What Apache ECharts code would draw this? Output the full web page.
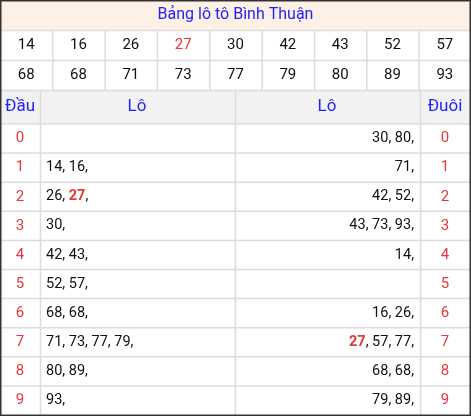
<!DOCTYPE html><html><head><meta charset="utf-8">
<script src="https://cdn.jsdelivr.net/npm/echarts@6/dist/echarts.min.js"></script>
<style>html,body{margin:0;padding:0;background:#fff}#c{width:471px;height:416px}</style></head><body><div id="c"></div>
<script>
const title = "Bảng lô tô Bình Thuận";
const numbersRow1 = ["14","16","26","27","30","42","43","52","57"];
const numbersRow2 = ["68","68","71","73","77","79","80","89","93"];
const highlight = "27";
const heads = ["0","1","2","3","4","5","6","7","8","9"];
const loByHead = [[],["14","16"],["26","27"],["30"],["42","43"],["52","57"],["68","68"],["71","73","77","79"],["80","89"],["93"]];
const loByTail = [["30","80"],["71"],["42","52"],["43","73","93"],["14"],[],["16","26"],["27","57","77"],["68","68"],["79","89"]];
const headerLabels = ["Đầu","Lô","Lô","Đuôi"];

const W=471,H=416, F='Roboto', blue='#1f1fff', red='#e8363c', line='#dcdcdc';
const g=[];
const rect=(x,y,w,h,fill)=>g.push({type:'rect',shape:{x,y,width:w,height:h},style:{fill},silent:true});
const hl=(y,x1=0,x2=W)=>g.push({type:'line',shape:{x1,y1:y,x2,y2:y},style:{stroke:line,lineWidth:1.5}});
const vl=(x,y1,y2)=>g.push({type:'line',shape:{x1:x,y1,x2:x,y2},style:{stroke:line,lineWidth:1.5}});
const txt=(x,y,t,o={})=>g.push({type:'text',x,y,style:Object.assign({text:t,fontSize:15,fontFamily:F,fill:'#111',align:'center',verticalAlign:'middle'},o)});

rect(0,0,W,30,'#fdf1e6');
txt(W/2,15,title,{fill:blue,fontSize:16});
const cw=W/9;
[numbersRow1,numbersRow2].forEach((row,r)=>{
  const y0=30+r*30;
  row.forEach((n,i)=>txt(cw*i+cw/2,y0+15,n,{fill:n===highlight?red:'#111'}));
});
for(let i=1;i<9;i++) vl(cw*i+0.5,30,90);
hl(30.5);hl(60.5);
rect(0,90,W,34,'#f2f2f2');
hl(90.5);hl(124);
txt(20,107,headerLabels[0],{fill:blue,fontSize:17});
txt(137,107,headerLabels[1],{fill:blue,fontSize:17});
txt(327,107,headerLabels[2],{fill:blue,fontSize:17});
txt(445,107,headerLabels[3],{fill:blue,fontSize:17});
const rh=29.1;
const richB={b:{fill:red,fontWeight:'bold',fontSize:14.5,fontFamily:F}};
const fmt=L=>L.map(n=>n===highlight?'{b|'+n+'}, ':n+', ').join('').trimEnd();
heads.forEach((h,i)=>{
  const y=124+rh*i+rh/2;
  txt(20,y,h,{fill:red});
  txt(445,y,h,{fill:red});
  if(loByHead[i].length) txt(46,y,fmt(loByHead[i]),{align:'left',fontSize:14.5,rich:richB});
  if(loByTail[i].length) txt(414,y,fmt(loByTail[i]),{align:'right',fontSize:14.5,rich:richB});
  if(i>0) hl(124+rh*i);
});
[40,235,420].forEach(x=>vl(x+0.5,90,H));
g.push({type:'rect',shape:{x:0.75,y:0.75,width:W-1.5,height:H-1.5},style:{fill:'none',stroke:'#333',lineWidth:1.5}});
const chart=echarts.init(document.getElementById('c'));
chart.setOption({animation:false,graphic:{elements:g}});
</script></body></html>
